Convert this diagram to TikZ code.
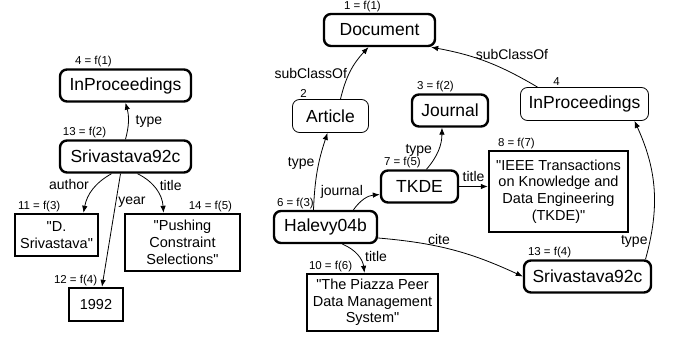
\documentclass[tikz,border=0pt]{standalone}
\usepackage{fontspec}
\setmainfont{Liberation Sans}[Ligatures=TeXOff]
\usetikzlibrary{arrows.meta,positioning}
\begin{document}
\begin{tikzpicture}[x=1pt, y=-1pt, >={Latex[length=7pt,width=5.5pt]},
  cls/.style={draw, rounded corners=7pt, line width=2.4pt, minimum width=#1, minimum height=32pt, inner sep=0pt, font=\fontsize{17.5}{20}\selectfont},
  thincls/.style={cls=#1, line width=0.8pt, minimum height=33pt},
  lit/.style 2 args={draw, line width=2.4pt, align=center, minimum width=#1, minimum height=#2, inner sep=0pt, font=\fontsize{14.5}{16.7}\selectfont},
  tag/.style={font=\fontsize{11.5}{12}\selectfont, inner sep=1pt, anchor=south west},
  rel/.style={font=\fontsize{14}{16}\selectfont, inner sep=2pt},
  link/.style={->, line width=0.8pt}]
  \useasboundingbox (0,0) rectangle (673,339);

  \node[cls=131pt, label={[tag, xshift=15pt]north west:4 = f(1)}] (ip1) at (125.5,85.5) {InProceedings};
  \node[cls=131pt, label={[tag, xshift=3pt]north west:13 = f(2)}] (s1) at (125.5,156.5) {Srivastava92c};
  \node[lit={83pt}{42pt}, label={[tag, xshift=3pt]north west:11 = f(3)}] (auth) at (56.5,235) {"D.\\Srivastava"};
  \node[lit={115pt}{57pt}, label={[tag, anchor=south east, xshift=-8pt]north east:14 = f(5)}] (pcs) at (182.5,242.5) {"Pushing\\Constraint\\Selections"};
  \node[lit={54pt}{33pt}, label={[tag, xshift=-15pt]north west:12 = f(4)}] (yr) at (96,304.5) {1992};

  \node[cls=111pt, label={[tag, xshift=20pt]north west:1 = f(1)}] (doc) at (379.5,30) {Document};
  \node[thincls=76pt, label={[tag, xshift=7pt]north west:2}] (art) at (330.5,116) {Article};
  \node[cls=76pt, label={[tag, xshift=5pt]north west:3 = f(2)}] (jr) at (450,110.5) {Journal};
  \node[thincls=128pt, label={[tag, xshift=32pt]north west:4}] (ip2) at (584.5,104) {InProceedings};
  \node[lit={139pt}{81pt}, label={[tag, xshift=9pt]north west:8 = f(7)}] (ieee) at (558.5,191.5) {"IEEE Transactions\\on Knowledge and\\Data Engineering\\(TKDE)"};
  \node[cls=77pt, label={[tag, xshift=3pt]north west:7 = f(5)}] (tk) at (419.5,186.5) {TKDE};
  \node[cls=103pt, label={[tag, xshift=3pt]north west:6 = f(3)}] (hal) at (325.5,227) {Halevy04b};
  \node[lit={131pt}{57pt}, label={[tag, xshift=2pt]north west:10 = f(6)}] (pz) at (372.5,302.5) {"The Piazza Peer\\Data Management\\System"};
  \node[cls=127pt, label={[tag, xshift=4pt]north west:13 = f(4)}] (sv2) at (587.5,276.5) {Srivastava92c};

  \draw[link] (s1.north) to[bend right=15] node[rel, pos=.5, right, xshift=5pt] {type} (ip1.south);
  \draw[link] ([xshift=-14pt]s1.south) to[bend right=25] node[rel, pos=.35, left, xshift=-6pt] {author} ([xshift=27pt]auth.north);
  \draw[link] ([xshift=-5pt]s1.south) -- node[rel, pos=.25, right] {year} ([xshift=6pt]yr.north);
  \draw[link] ([xshift=12pt]s1.south) to[bend left=30] node[rel, pos=.4, right, xshift=4pt] {title} ([xshift=-19pt]pcs.north);

  \draw[link] ([xshift=10pt]art.north) to[bend left=15] node[rel, pos=.45, left] {subClassOf} ([xshift=-11pt]doc.south);
  \draw[link] ([xshift=-47pt]ip2.north) to[bend right=10] node[rel, pos=.3, above=8pt, xshift=6pt] {subClassOf} ([xshift=-5pt]doc.south east);
  \draw[link] ([xshift=-12pt]hal.north) to[bend left=8] node[rel, pos=.6, left, xshift=-2pt] {type} ([xshift=-3pt]art.south);
  \draw[link] ([xshift=28pt]hal.north) to[bend left=25] node[rel, pos=.4, above left, xshift=3pt] {journal} ([yshift=-8pt]tk.west);
  \draw[link] ([xshift=7pt]tk.north) to[bend right=20] node[rel, pos=.5, left, xshift=-4pt] {type} ([xshift=-8pt]jr.south);
  \draw[link] (tk.east) -- node[rel, above, yshift=2pt] {title} (ieee.west |- tk.east);
  \draw[link] ([xshift=17pt]hal.south) to[bend left=30] node[rel, pos=.55, right, xshift=4pt] {title} ([xshift=-8pt]pz.north);
  \draw[link] ([yshift=-11pt]hal.east) to[bend left=10] node[rel, pos=.4, above] {cite} (sv2.west);
  \draw[link] ([xshift=58pt]sv2.north) to[bend right=20] node[rel, pos=.12, left] {type} ([xshift=50pt]ip2.south);
\end{tikzpicture}
\end{document}
